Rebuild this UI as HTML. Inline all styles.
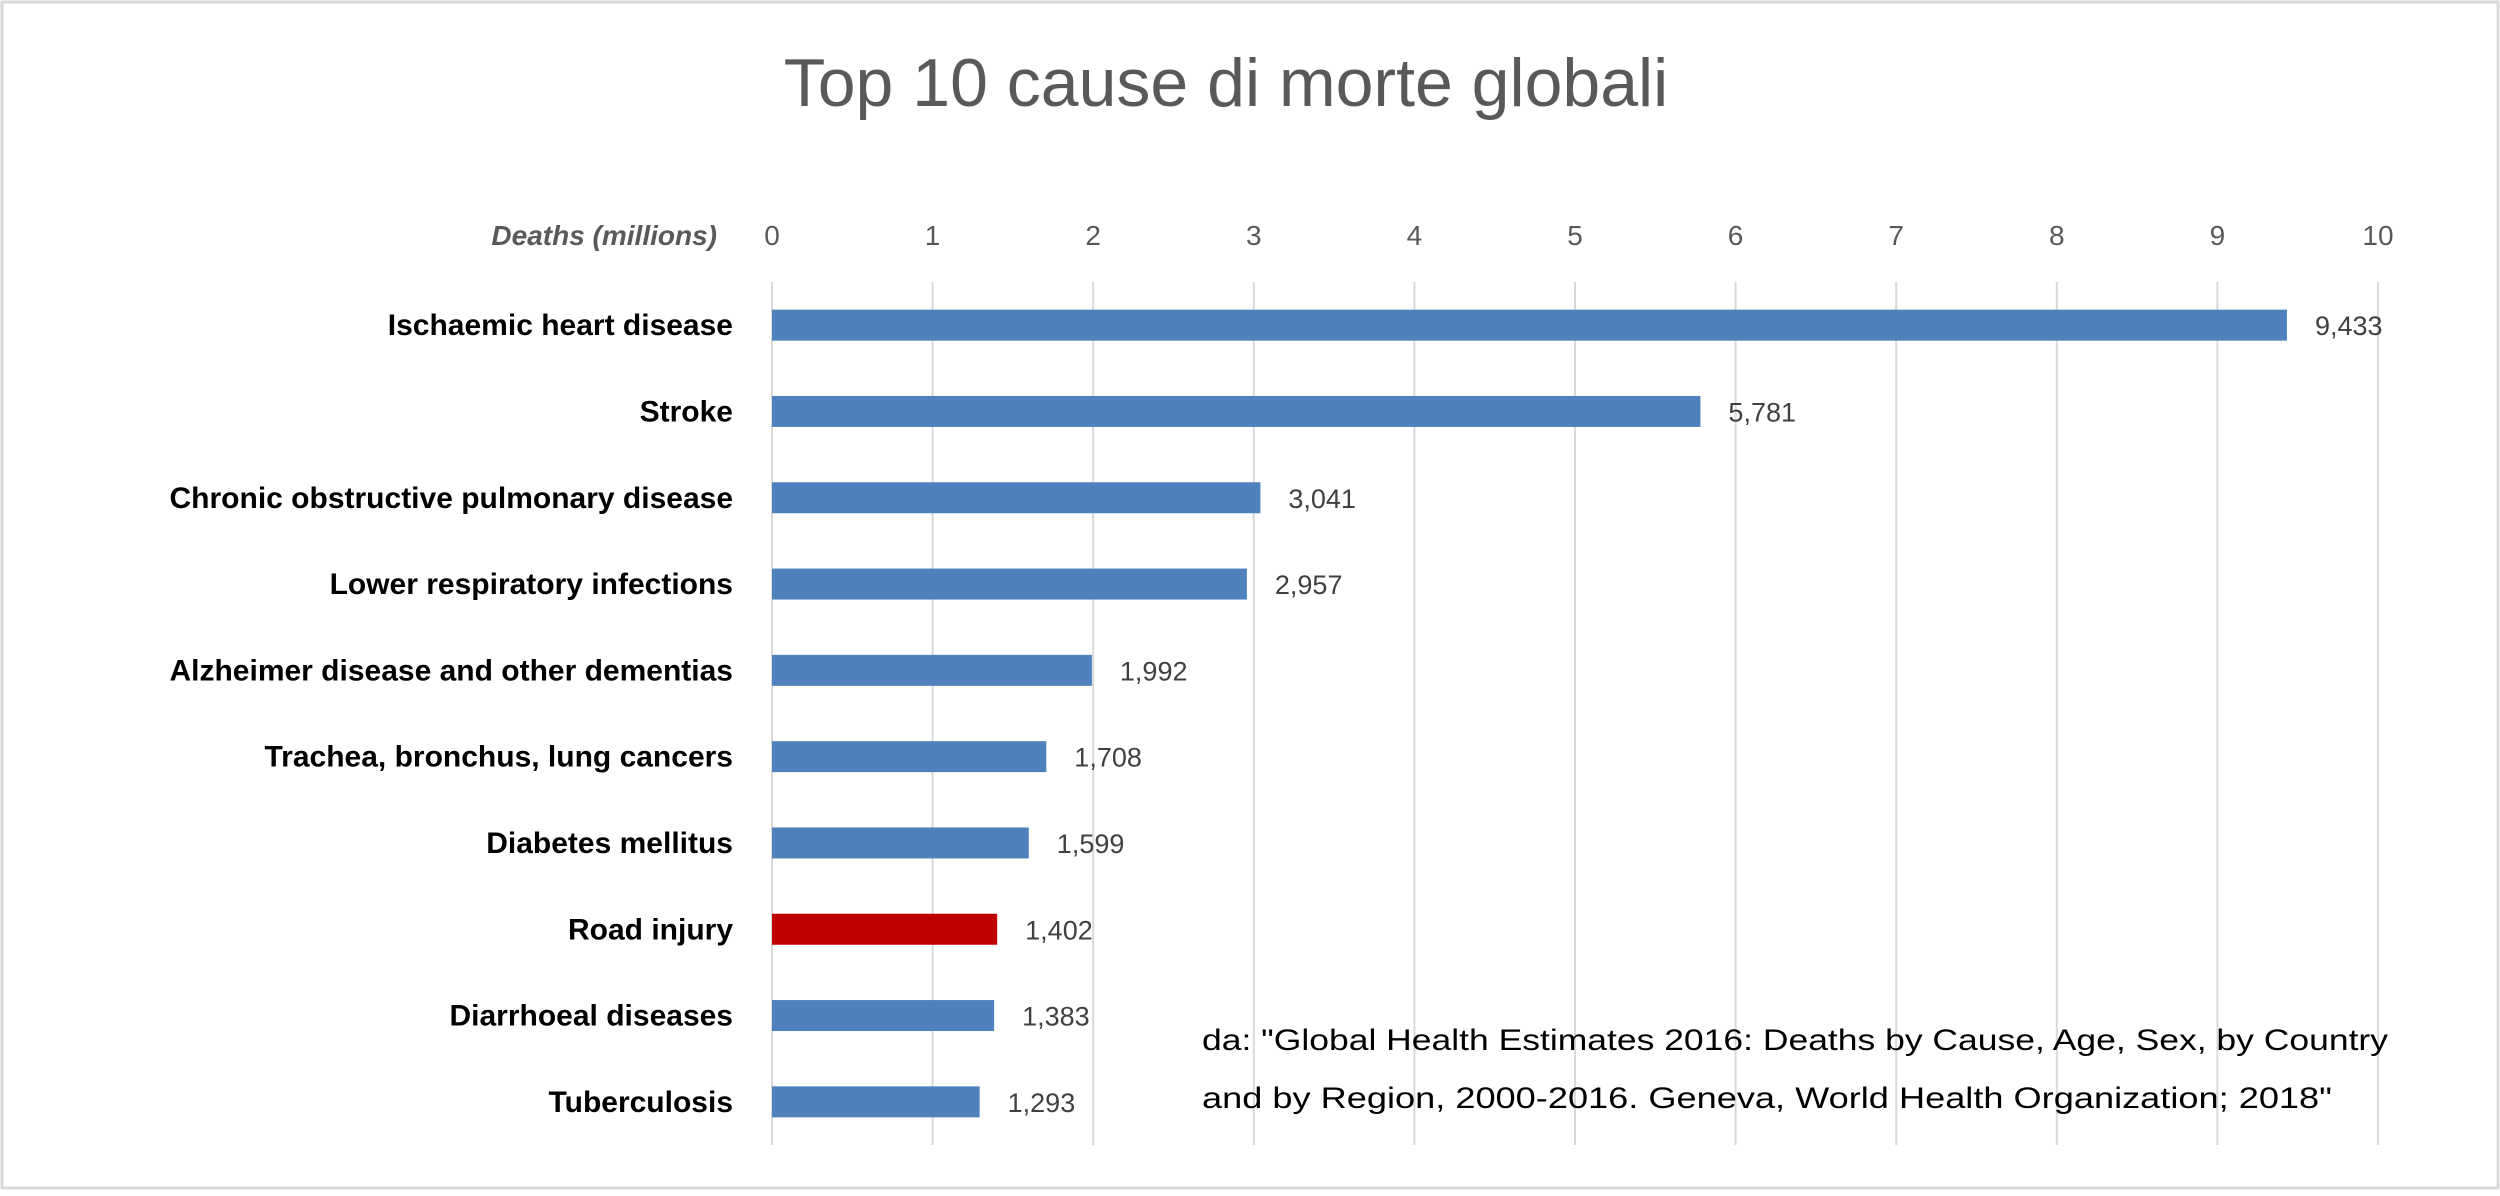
<!DOCTYPE html>
<html><head><meta charset="utf-8"><style>
html,body{margin:0;padding:0;background:#fff}
svg{display:block}
text{font-family:"Liberation Sans",sans-serif}
</style></head><body>
<svg id="chart" width="2500" height="1196" viewBox="0 0 2500 1196" xmlns="http://www.w3.org/2000/svg">
<rect x="2" y="2" width="2496" height="1186" fill="#fff" stroke="#d9d9d9" stroke-width="3"/>
<text x="1226" y="106" font-size="68" fill="#595959" text-anchor="middle">Top 10 cause di morte globali</text>
<text x="717" y="245" font-size="28" font-weight="bold" font-style="italic" fill="#595959" text-anchor="end">Deaths (millions)</text>
<g id="grid"></g>
<g id="ticks"></g>
<g id="bars"></g>
<g id="cats"></g>
<g id="vals"></g>
<g font-size="30" fill="#000">
<text x="1202" y="1050" textLength="1186" lengthAdjust="spacingAndGlyphs">da: "Global Health Estimates 2016: Deaths by Cause, Age, Sex, by Country</text>
<text x="1202" y="1108" textLength="1130" lengthAdjust="spacingAndGlyphs">and by Region, 2000-2016. Geneva, World Health Organization; 2018"</text>
</g>
</svg>
<script>
const categories = ["Ischaemic heart disease","Stroke","Chronic obstructive pulmonary disease","Lower respiratory infections","Alzheimer disease and other dementias","Trachea, bronchus, lung cancers","Diabetes mellitus","Road injury","Diarrhoeal diseases","Tuberculosis"];
const values = [9.433,5.781,3.041,2.957,1.992,1.708,1.599,1.402,1.383,1.293];
const valueLabels = ["9,433","5,781","3,041","2,957","1,992","1,708","1,599","1,402","1,383","1,293"];
const highlight = [false,false,false,false,false,false,false,true,false,false];
const tickValues = [0,1,2,3,4,5,6,7,8,9,10];

const NS = "http://www.w3.org/2000/svg";
const x0 = 772, x1 = 2378, yTop = 282, yBottom = 1145;
const xScale = v => x0 + (v - 0) / 10 * (x1 - x0);
const band = (yBottom - yTop) / categories.length;
const yCenter = i => yTop + band * (i + 0.5);
const barH = 31;
function mk(tag, attrs, parent){ const e=document.createElementNS(NS,tag); for(const k in attrs) e.setAttribute(k,attrs[k]); parent.appendChild(e); return e; }
const grid=document.getElementById('grid'), ticks=document.getElementById('ticks'), bars=document.getElementById('bars'), cats=document.getElementById('cats'), vals=document.getElementById('vals');
tickValues.forEach(t=>{
  const l=mk('line',{x1:xScale(t),x2:xScale(t),y1:yTop,y2:yBottom,stroke:'#d9d9d9','stroke-width':2},grid);
  
  
  const tx=mk('text',{x:xScale(t),y:245,'font-size':28,fill:'#595959','text-anchor':'middle'},ticks);
  tx.textContent=t;
  
  
});
categories.forEach((c,i)=>{
  const yc=yCenter(i);
  const r=mk('rect',{x:xScale(0),y:yc-barH/2,width:xScale(values[i])-xScale(0),height:barH,fill:highlight[i]?'#c00000':'#4f81bd'},bars);
  
  
  const t=mk('text',{x:733,y:yc+10,'font-size':30,'font-weight':'bold',fill:'#000','text-anchor':'end'},cats);
  t.textContent=c;
  
  
  const v=mk('text',{x:xScale(values[i])+28,y:yc+10,'font-size':27,fill:'#404040'},vals);
  v.textContent=valueLabels[i];
  
  
});
</script>
</body></html>
